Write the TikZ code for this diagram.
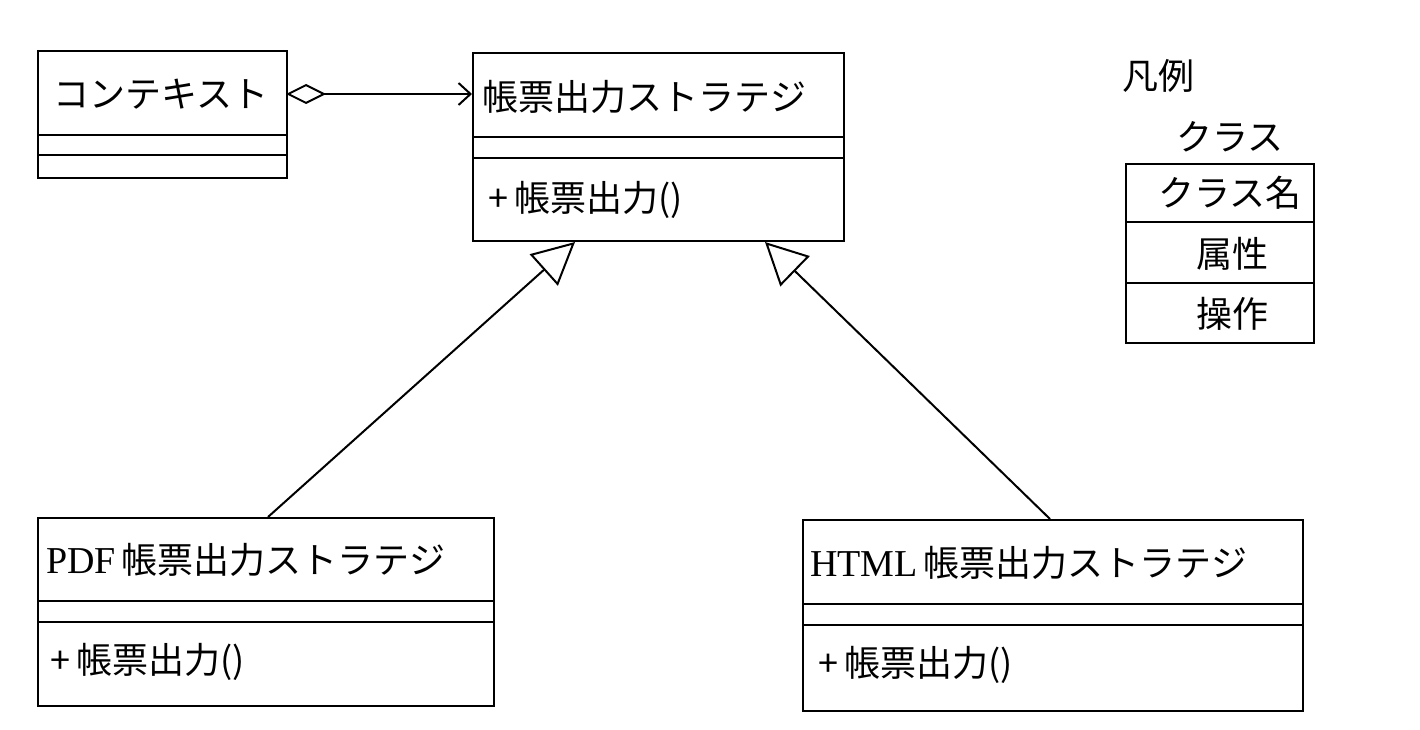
\documentclass[tikz,border=0pt]{standalone}
\usepackage{fontspec}
\setmainfont{Liberation Serif}
\newfontfamily\cjk{Noto Sans CJK JP}
\usetikzlibrary{arrows.meta}
\begin{document}
\begin{tikzpicture}[x=1pt,y=-1pt,
  box/.style={draw,line width=2pt,anchor=north west,inner sep=0pt},
  txt/.style={font=\cjk\fontsize{36}{40}\selectfont,inner sep=0pt},
  lat/.style={font=\rmfamily\fontsize{40}{40}\selectfont},
  ln/.style={line width=2pt}]
\useasboundingbox (0,0) rectangle (1420,730);
% Context
\node[box,minimum width=249pt,minimum height=127pt] (ctx) at (37,50) {};
\node[txt] (ctxn) at (161,94) {コンテキスト};
\draw[ln] (37,135) -- (286,135) (37,155) -- (286,155);
% Strategy
\node[box,minimum width=371pt,minimum height=188pt] (st) at (472,52) {};
\node[txt,anchor=west] (stn) at (482,97) {帳票出力ストラテジ};
\draw[ln] (472,137) -- (843,137) (472,158) -- (843,158);
\node[txt,anchor=west] (sto) at (488,200) {+\,帳票出力()};
% PDF
\node[box,minimum width=456pt,minimum height=188pt] (pdf) at (37,517) {};
\node[txt,anchor=west] (pdfn) at (46,560) {{\rmfamily\fontsize{38}{40}\selectfont PDF}\,帳票出力ストラテジ};
\draw[ln] (37,601) -- (493,601) (37,622) -- (493,622);
\node[txt,anchor=west] (pdfo) at (50,662) {+\,帳票出力()};
% HTML
\node[box,minimum width=500pt,minimum height=191pt] (html) at (802,519) {};
\node[txt,anchor=west] (htmln) at (810,563) {{\rmfamily\fontsize{38}{40}\selectfont HTML}\,帳票出力ストラテジ};
\draw[ln] (802,604) -- (1302,604) (802,625) -- (1302,625);
\node[txt,anchor=west] (htmlo) at (818,665) {+\,帳票出力()};
% connectors
\coordinate (ctxr) at (286,94);
\coordinate (stl) at (472,94);
\draw[ln,{Diamond[open,length=40pt,width=20pt]}-{Straight Barb[length=12pt,width=22pt]}] (ctxr) -- (stl);
\coordinate (pdft) at (268,517);
\coordinate (stb1) at (575,242);
\coordinate (htmlt) at (1050,519);
\coordinate (stb2) at (765,242);
\draw[ln,-{Triangle[open,length=42pt,width=42pt]}] (pdft) -- (stb1);
\draw[ln,-{Triangle[open,length=42pt,width=42pt]}] (htmlt) -- (stb2);
% legend
\node[txt] (lg) at (1158,76) {凡例};
\node[txt] (lgc) at (1230,137) {クラス};
\node[box,minimum width=188pt,minimum height=179pt] (lgb) at (1125,163) {};
\draw[ln] (1125,222) -- (1313,222) (1125,283) -- (1313,283);
\node[txt] (l1) at (1230,193) {クラス名};
\node[txt] (l2) at (1232,254) {属性};
\node[txt] (l3) at (1232,314) {操作};
\end{tikzpicture}
\end{document}
